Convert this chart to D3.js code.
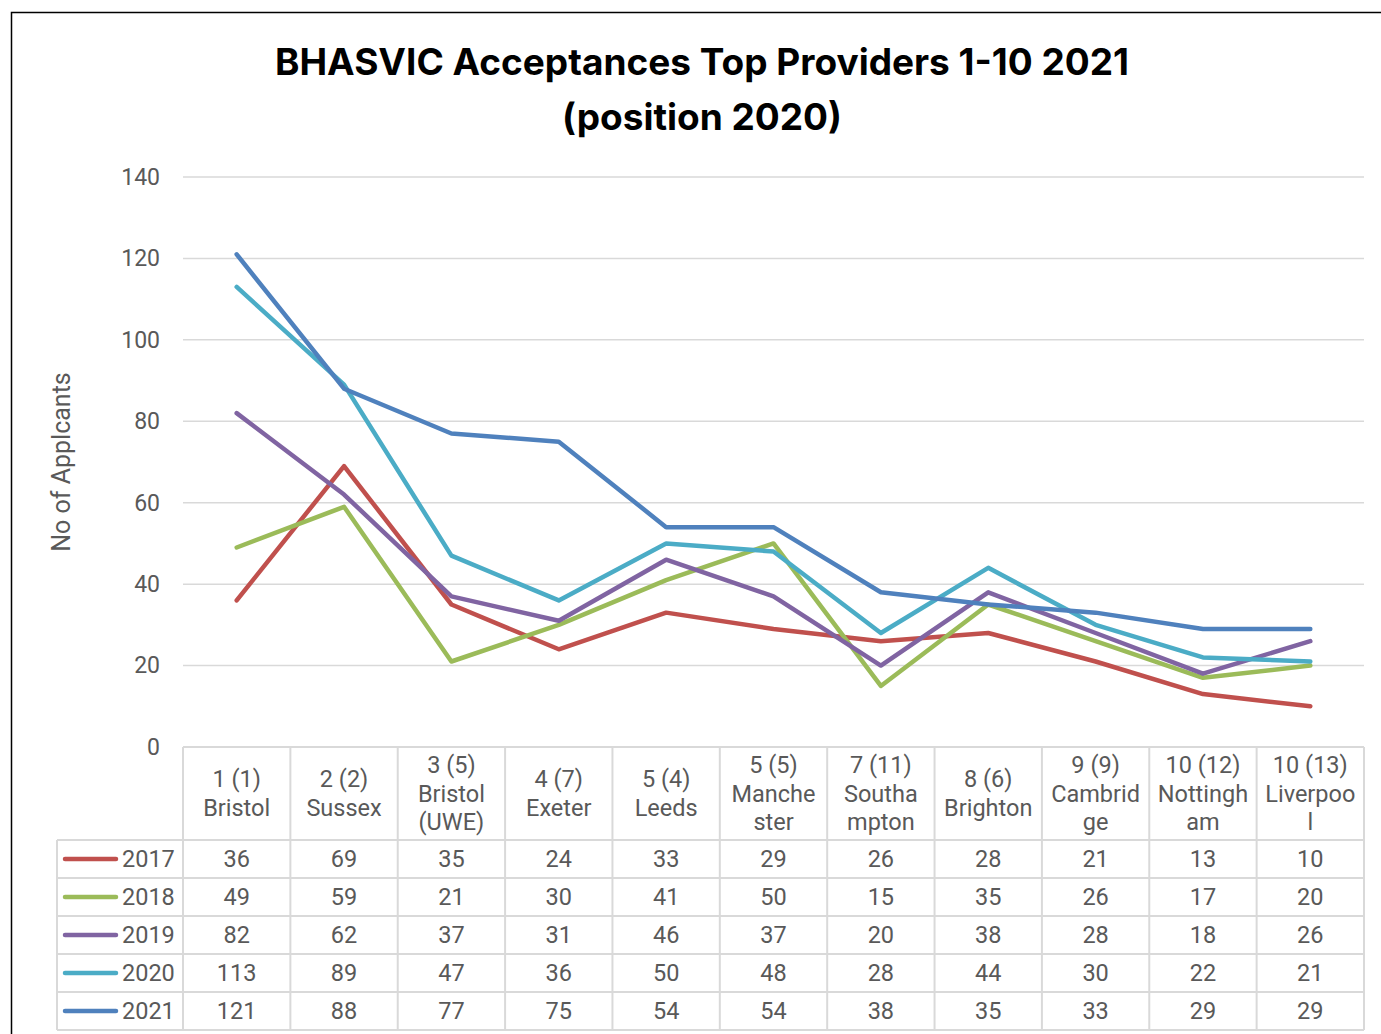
<!DOCTYPE html>
<html>
<head>
<meta charset="utf-8">
<script src="https://cdn.jsdelivr.net/npm/d3@7"></script>
<style>
  html, body { margin: 0; padding: 0; background: #fff; }
  svg { display: block; }
</style>
</head>
<body>
<svg id="chart" width="1381" height="1034"></svg>
<script>
// data
var categories = [
  ["1 (1)", "Bristol"],
  ["2 (2)", "Sussex"],
  ["3 (5)", "Bristol", "(UWE)"],
  ["4 (7)", "Exeter"],
  ["5 (4)", "Leeds"],
  ["5 (5)", "Manche", "ster"],
  ["7 (11)", "Southa", "mpton"],
  ["8 (6)", "Brighton"],
  ["9 (9)", "Cambrid", "ge"],
  ["10 (12)", "Nottingh", "am"],
  ["10 (13)", "Liverpoo", "l"]
];
var years = ["2017", "2018", "2019", "2020", "2021"];
var v2017 = [36, 69, 35, 24, 33, 29, 26, 28, 21, 13, 10];
var v2018 = [49, 59, 21, 30, 41, 50, 15, 35, 26, 17, 20];
var v2019 = [82, 62, 37, 31, 46, 37, 20, 38, 28, 18, 26];
var v2020 = [113, 89, 47, 36, 50, 48, 28, 44, 30, 22, 21];
var v2021 = [121, 88, 77, 75, 54, 54, 38, 35, 33, 29, 29];
var yTicks = [0, 20, 40, 60, 80, 100, 120, 140];
var colors = ["#c0504d", "#9bbb59", "#8064a2", "#4bacc6", "#4f81bd"];

var series = [v2017, v2018, v2019, v2020, v2021];

var svg = d3.select("#chart");
var plotLeft = 183, plotRight = 1364, plotTop = 177, base = 747;
var gridCol = "#d9d9d9", txtCol = "#595959";

// outer frame (cut off on right/bottom in the picture)
svg.append("rect")
  .attr("x", 11.5).attr("y", 12.5)
  .attr("width", 1400).attr("height", 1100)
  .attr("fill", "none").attr("stroke", "#000").attr("stroke-width", 1.5);

// title
var title = svg.append("text")
  .attr("text-anchor", "middle")
  .attr("font-family", "Inter, 'Open Sans', sans-serif")
  .attr("font-weight", "bold")
  .attr("font-size", 37)
  .attr("fill", "#000");
title.append("tspan").attr("x", 702).attr("y", 75).text("BHASVIC Acceptances Top Providers 1-10 2021");
title.append("tspan").attr("x", 702).attr("y", 130).text("(position 2020)");

var x = d3.scaleBand()
  .domain(d3.range(categories.length))
  .range([plotLeft, plotRight]);
var y = d3.scaleLinear().domain([0, 140]).range([base, plotTop]);

// gridlines
svg.append("g")
  .selectAll("line")
  .data(yTicks.filter(d => d > 0))
  .enter().append("line")
  .attr("x1", plotLeft).attr("x2", plotRight)
  .attr("y1", d => y(d)).attr("y2", d => y(d))
  .attr("stroke", gridCol).attr("stroke-width", 1.5);

// y axis labels
var yAxis = d3.axisLeft(y).tickValues(yTicks).tickSize(0).tickPadding(23);
var gy = svg.append("g").attr("transform", "translate(" + plotLeft + ",0)").call(yAxis);
gy.select(".domain").remove();
gy.selectAll("text")
  .attr("font-family", "Roboto, sans-serif")
  .attr("font-size", 23)
  .attr("fill", txtCol);

// y axis title
svg.append("text")
  .attr("transform", "translate(70,462) rotate(-90)")
  .attr("text-anchor", "middle")
  .attr("font-family", "Roboto, sans-serif")
  .attr("font-size", 25)
  .attr("fill", txtCol)
  .text("No of Applcants");

// lines
var line = d3.line()
  .x((d, i) => x(i) + x.bandwidth() / 2)
  .y(d => y(d));
svg.append("g")
  .selectAll("path")
  .data(series)
  .enter().append("path")
  .attr("d", d => line(d))
  .attr("fill", "none")
  .attr("stroke", (d, i) => colors[i])
  .attr("stroke-width", 4.5)
  .attr("stroke-linejoin", "round")
  .attr("stroke-linecap", "round");

// data table
var headBottom = 840, rowH = 38, tableLeft = 57;
var tbl = svg.append("g")
  .attr("font-family", "Roboto, sans-serif")
  .attr("font-size", 23.5)
  .attr("fill", txtCol);

// horizontal rules
tbl.append("line").attr("x1", plotLeft).attr("x2", plotRight).attr("y1", base).attr("y2", base)
  .attr("stroke", gridCol).attr("stroke-width", 2);
for (var r = 0; r <= years.length; r++) {
  tbl.append("line")
    .attr("x1", tableLeft).attr("x2", plotRight)
    .attr("y1", headBottom + r * rowH).attr("y2", headBottom + r * rowH)
    .attr("stroke", gridCol).attr("stroke-width", 2);
}
// vertical rules
tbl.append("line").attr("x1", tableLeft).attr("x2", tableLeft)
  .attr("y1", headBottom).attr("y2", headBottom + years.length * rowH)
  .attr("stroke", gridCol).attr("stroke-width", 2);
d3.range(categories.length + 1).forEach(function (i) {
  var xx = i < categories.length ? x(i) : plotRight;
  tbl.append("line").attr("x1", xx).attr("x2", xx)
    .attr("y1", base).attr("y2", headBottom + years.length * rowH)
    .attr("stroke", gridCol).attr("stroke-width", 2);
});

// header cells
categories.forEach(function (c, i) {
  var cx = x(i) + x.bandwidth() / 2;
  var lh = 28.5;
  var y0 = (base + headBottom) / 2 - (c.length - 1) * lh / 2 + 8;
  var t = tbl.append("text").attr("text-anchor", "middle");
  c.forEach(function (s, k) {
    t.append("tspan").attr("x", cx).attr("y", y0 + k * lh).text(s);
  });
});

// rows
years.forEach(function (yr, r) {
  var cy = headBottom + r * rowH + rowH / 2 + 8;
  tbl.append("line")
    .attr("x1", 65).attr("x2", 116)
    .attr("y1", cy - 8).attr("y2", cy - 8)
    .attr("stroke", colors[r]).attr("stroke-width", 4.5)
    .attr("stroke-linecap", "round");
  tbl.append("text").attr("x", 122).attr("y", cy).text(yr);
  series[r].forEach(function (v, i) {
    tbl.append("text")
      .attr("x", x(i) + x.bandwidth() / 2)
      .attr("y", cy)
      .attr("text-anchor", "middle")
      .text(v);
  });
});
</script>
</body>
</html>
